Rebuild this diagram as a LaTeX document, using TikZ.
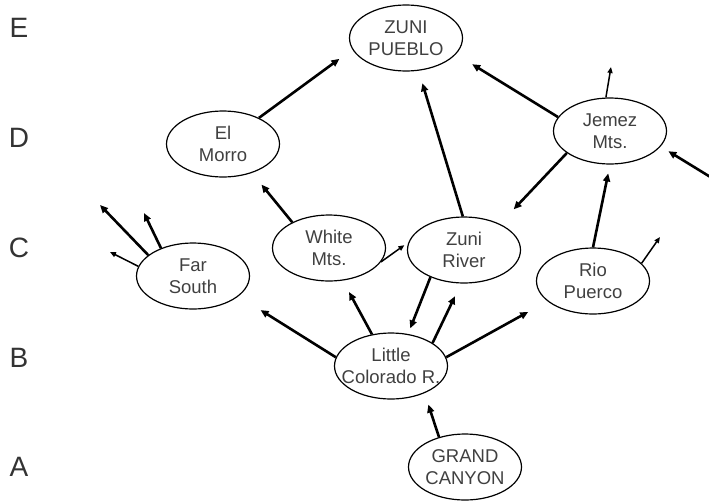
\documentclass[tikz,border=0pt]{standalone}
\usepackage{fontspec}
\setmainfont{Liberation Sans}
\usepackage{xcolor}
\usetikzlibrary{arrows.meta,shapes.geometric}
\definecolor{txtgray}{HTML}{404040}
\definecolor{lblgray}{HTML}{333333}

\begin{document}
\begin{tikzpicture}[x=1pt,y=-1pt,
  place/.style={ellipse,draw,line width=1.2pt,minimum width=113pt,minimum height=66pt,inner sep=0pt,align=center,font=\fontsize{18.5}{22}\selectfont,text=txtgray},
  lvl/.style={font=\fontsize{28}{28}\selectfont,text=lblgray},
  ar/.style={-{Triangle[length=8pt,width=7pt]},line width=2.6pt},
  tar/.style={-{Triangle[length=6pt,width=5pt]},line width=1.5pt}]
\useasboundingbox (0,0) rectangle (709,501);
% stage letters
\node[lvl] (lblE) at (19,28) {E};
\node[lvl] (lblD) at (19,138) {D};
\node[lvl] (lblC) at (19,248) {C};
\node[lvl] (lblB) at (19,358) {B};
\node[lvl] (lblA) at (19,467) {A};
% places
\node[place] (zpueblo) at (406,38) {ZUNI\\PUEBLO};
\node[place] (elmorro) at (223,144) {El\\Morro};
\node[place] (jemez) at (610,131) {Jemez\\Mts.};
\node[place] (farsouth) at (193,276) {Far\\South};
\node[place] (whitem) at (329,248) {White\\Mts.};
\node[place] (zriver) at (464,250) {Zuni\\River};
\node[place] (riop) at (593,281) {Rio\\Puerco};
\node[place,inner xsep=-10pt] (lcr) at (391,366) {Little\\Colorado R.};
\node[place] (gcanyon) at (465,467) {GRAND\\CANYON};
% free ends
\coordinate (jemezup) at (611,67);
\coordinate (jemezin) at (712,178);
\coordinate (riopout) at (660,237);
\coordinate (fs1) at (100,205);
\coordinate (fs2) at (144,213);
\coordinate (fs3) at (110,252);
% moves
\draw[ar,shorten >=16pt] (elmorro.36) -- (zpueblo.192);
\draw[ar,shorten >=19pt] (jemez.165) -- (zpueblo.342);
\draw[tar] (jemez.97) -- (jemezup);
\draw[ar,shorten >=20pt] (jemez.207) -- (zriver.36);
\draw[ar,shorten >=13pt] (zriver.92) -- (zpueblo.-69);
\draw[ar,shorten >=9pt] (riop.90) -- (jemez.-90);
\draw[ar,shorten >=9pt] (jemezin) -- (jemez.-17);
\draw[tar] (riop.20) -- (riopout);
\draw[ar,shorten >=22pt] (lcr.9) -- (riop.204);
\draw[ar,shorten >=14pt] (lcr.29) -- (zriver.-95);
\draw[ar,shorten >=6pt] (zriver.219) -- (lcr.62);
\draw[ar,shorten >=13pt] (lcr.121) -- (whitem.-67);
\draw[ar,shorten >=26pt] (lcr.171) -- (farsouth.-24);
\draw[ar,shorten >=12pt] (gcanyon.131) -- (lcr.-39);
\draw[ar,shorten >=15pt] (whitem.145) -- (elmorro.-45);
\draw[tar,shorten >=5pt] (whitem.-15) -- (zriver.172);
\draw[ar] (farsouth.155) -- (fs1);
\draw[ar] (farsouth.139) -- (fs2);
\draw[tar] (farsouth.170) -- (fs3);
\end{tikzpicture}
\end{document}
